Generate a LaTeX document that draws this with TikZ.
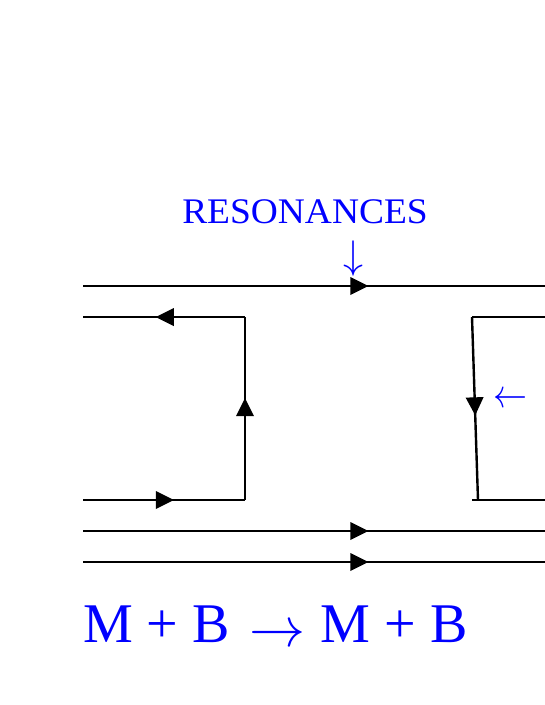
\documentclass[tikz,border=0pt]{standalone}
\usepackage{fontspec}
\setmainfont{Liberation Serif}
\usetikzlibrary{decorations.markings}
\newcommand{\bigsym}[3]{\scalebox{#1}[#2]{\normalsize$#3$}}
\begin{document}
\begin{tikzpicture}[x=1pt,y=-1pt,
  quark/.style={line width=2.4pt},
  arr/.style={postaction={decorate},decoration={markings,
     mark=at position #1 with {\fill (5,0) -- (-13,-9) -- (-13,9) -- cycle;}}},
  lbl/.style={text=blue,inner sep=0pt}]
\useasboundingbox (0,0) rectangle (545,705);
\clip (0,0) rectangle (545,705);
% coordinates
\coordinate (a1) at (83,286);  \coordinate (a2) at (560,286);
\coordinate (b1) at (83,317);  \coordinate (b2) at (245,317);
\coordinate (b3) at (245,500); \coordinate (b4) at (83,500);
\coordinate (c1) at (83,531);  \coordinate (c2) at (560,531);
\coordinate (d1) at (83,562);  \coordinate (d2) at (560,562);
\coordinate (r1) at (560,317); \coordinate (r2) at (472,317);
\coordinate (r3) at (478,500); \coordinate (r4) at (472,500);
\coordinate (r5) at (545,500);
% lines
\draw[quark,arr=0.588] (a1) -- (a2);
\draw[quark,arr=0.52] (b2) -- (b1);
\draw[quark,arr=0.53] (b3) -- (b2);
\draw[quark,arr=0.53] (b4) -- (b3);
\draw[quark,arr=0.588] (c1) -- (c2);
\draw[quark,arr=0.588] (d1) -- (d2);
\draw[quark] (r1) -- (r2);
\draw[quark,arr=0.51] (r2) -- (r3);
\draw[quark] (r4) -- (r5);
\fill (544,500) -- (562,491) -- (562,509) -- cycle;
% labels
\node[lbl,font=\fontsize{36}{40}\selectfont,xscale=1.04] (res) at (305,212) {RESONANCES};
\node[lbl] (down) at (353,258) {\bigsym{4}{4}{\downarrow}};
\node[lbl] (left) at (510,400) {\bigsym{3.4}{4}{\leftarrow}};
\node[lbl,font=\fontsize{56}{60}\selectfont,anchor=base west] (eq) at (83,642)
  {M + B\hspace{20pt}\raisebox{-4pt}{\bigsym{5.6}{5.6}{\rightarrow}}\hspace{15pt}M + B};
\end{tikzpicture}
\end{document}
